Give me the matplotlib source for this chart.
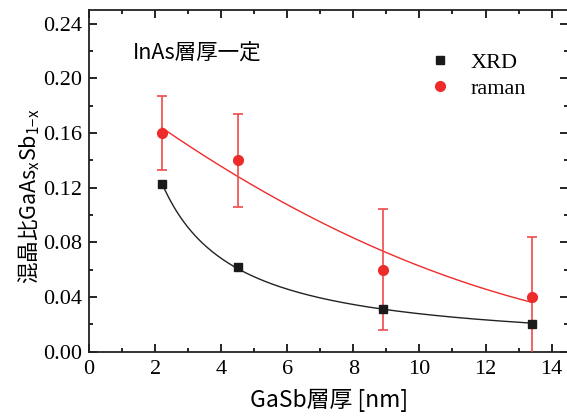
import matplotlib
matplotlib.use("Agg")
import matplotlib.pyplot as plt
import numpy as np
from matplotlib.ticker import MultipleLocator, FormatStrFormatter

# GaSb layer thickness [nm]
gasb_nm = np.array([2.2, 4.5, 8.9, 13.4])
# composition x from XRD
xrd_x = np.array([0.123, 0.062, 0.031, 0.020])
# composition x from raman, with error bars
raman_x = np.array([0.160, 0.140, 0.060, 0.040])
raman_err = np.array([0.027, 0.034, 0.044, 0.044])

RED = '#ee2b2b'
JP = ['Noto Sans CJK JP', 'DejaVu Sans']
SERIF = 'Liberation Serif'


def main() -> None:
    plt.rcParams['font.family'] = [SERIF, 'DejaVu Sans']
    plt.rcParams['mathtext.fontset'] = 'custom'
    plt.rcParams['mathtext.rm'] = 'Noto Sans CJK JP'
    plt.rcParams['mathtext.it'] = 'Noto Sans CJK JP'

    fig = plt.figure(figsize=(5.67, 4.17), dpi=100)
    ax = fig.add_axes([0.157, 0.157, 0.845, 0.819])

    # fits: 1/x + const for XRD, weighted quadratic for raman
    xs = np.linspace(gasb_nm[0], gasb_nm[-1], 200)
    a, b = np.polyfit(1.0 / gasb_nm, xrd_x, 1)
    ax.plot(xs, a / xs + b, color='#222222', lw=1.0, zorder=2)
    p = np.polyfit(gasb_nm, raman_x, 2, w=1.0 / raman_err)
    ax.plot(xs, np.polyval(p, xs), color=RED, lw=1.0, zorder=2)

    ax.errorbar(gasb_nm, raman_x, yerr=raman_err, fmt='none', ecolor='#f04a4a',
                elinewidth=1.2, capsize=3.5, capthick=1.2, zorder=3)
    ax.plot(gasb_nm, xrd_x, 's', color='#1a1a1a', ms=5.5, zorder=4, label='XRD')
    ax.plot(gasb_nm, raman_x, 'o', color=RED, ms=7, zorder=4, label='raman')

    ax.set_xlim(0, 14.5)
    ax.set_ylim(0, 0.25)
    ax.xaxis.set_major_locator(MultipleLocator(2))
    ax.xaxis.set_minor_locator(MultipleLocator(1))
    ax.yaxis.set_major_locator(MultipleLocator(0.04))
    ax.yaxis.set_minor_locator(MultipleLocator(0.02))
    ax.yaxis.set_major_formatter(FormatStrFormatter('%.2f'))
    ax.tick_params(which='both', direction='in', top=True, right=True, width=1.2)
    ax.tick_params(which='major', length=5.5, labelsize=16, pad=5)
    ax.tick_params(axis='x', which='major', pad=6)
    ax.tick_params(which='minor', length=3)
    for s in ax.spines.values():
        s.set_linewidth(1.3)
        s.set_color('#222222')

    ax.set_xlabel('GaSb層厚 [nm]', family=JP, fontsize=16.5, labelpad=7)
    ax.set_ylabel('混晶比GaAs$_\\text{x}$Sb$_\\text{1\u2212x}$', family=JP,
                  fontsize=15.5)
    ax.yaxis.set_label_coords(-0.098, 0.455)

    ax.text(0.092, 0.875, 'InAs層厚一定', transform=ax.transAxes, family=JP,
            fontsize=15.5, va='center', ha='left')

    ax.legend(loc='upper left', bbox_to_anchor=(0.662, 0.935), frameon=False,
              prop={'family': SERIF, 'size': 16}, handlelength=1.2,
              handletextpad=0.8, labelspacing=0.25)

    fig.savefig('out.png', dpi=100)


if __name__ == "__main__":
    main()
